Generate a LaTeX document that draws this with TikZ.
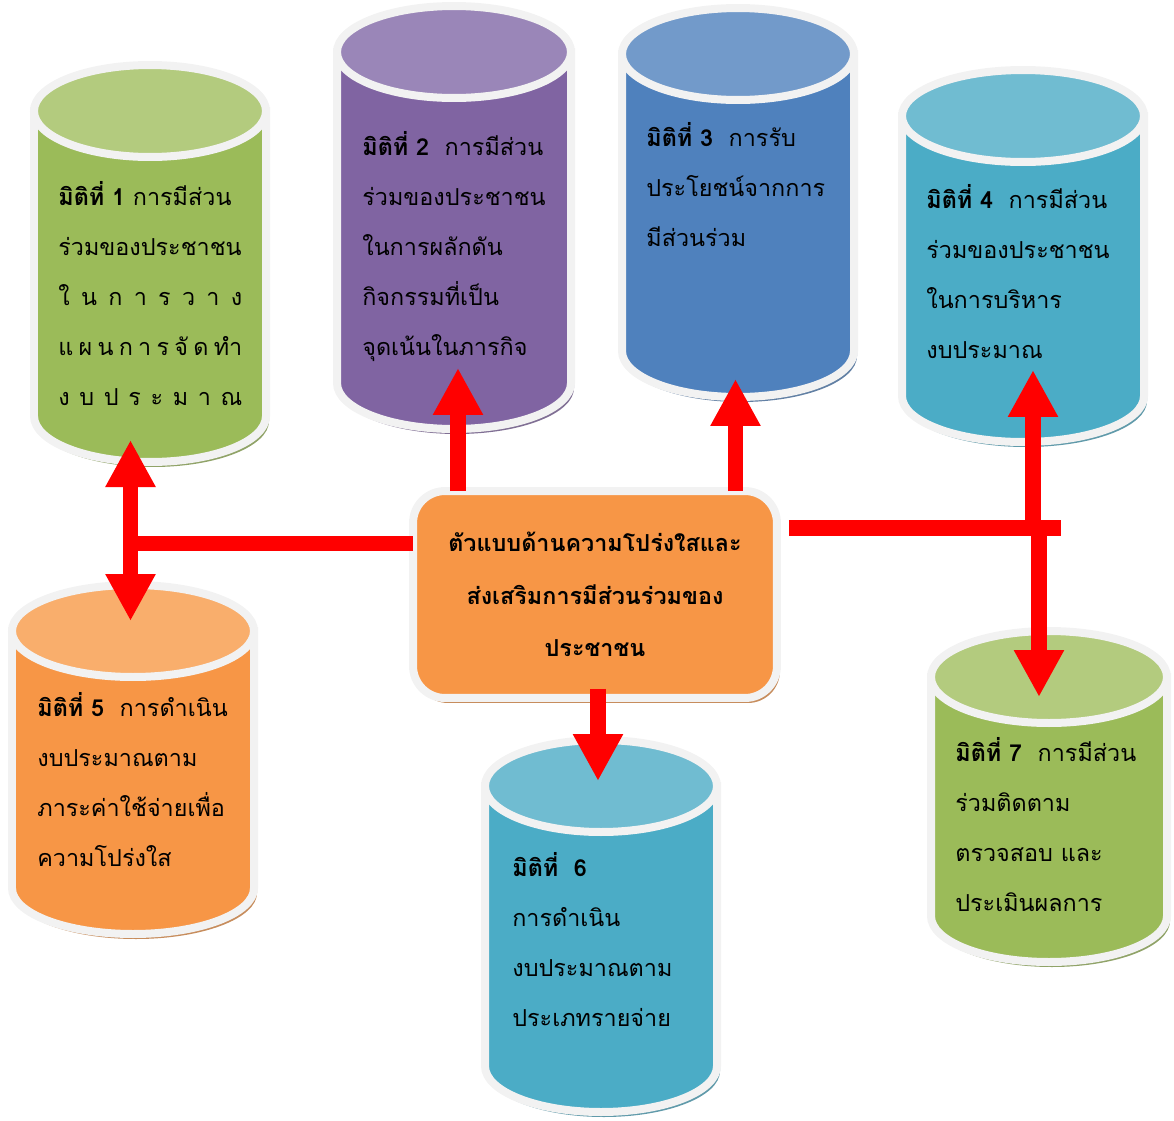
\documentclass[tikz,border=0pt]{standalone}
\usepackage{fontspec}
\newfontfamily\thai[Script=Thai]{Loma}
\usetikzlibrary{arrows.meta, shadows}

\definecolor{dgreen}{HTML}{9BBB59}
\definecolor{dgreentop}{HTML}{B3CB7E}
\definecolor{dpurple}{HTML}{8064A2}
\definecolor{dpurpletop}{HTML}{9A86B8}
\definecolor{dblue}{HTML}{4F81BD}
\definecolor{dbluetop}{HTML}{729ACA}
\definecolor{dteal}{HTML}{4BACC6}
\definecolor{dtealtop}{HTML}{70BCD1}
\definecolor{dorange}{HTML}{F79646}
\definecolor{dorangetop}{HTML}{F9AE6C}
\definecolor{rimgrey}{HTML}{F2F2F2}
\definecolor{arrowred}{HTML}{FF0000}

% cylinder: centre x, top y, bottom y, x radius, body colour, top colour
\newcommand\drum[6]{%
  \path[fill=#5!60!gray, shift={(3,5)}] (#1-#4,#2) -- (#1-#4,#3)
    arc[start angle=180, end angle=360, x radius=#4*0.02cm, y radius=0.92cm] -- (#1+#4,#2) -- cycle;
  \path[rim, fill=#5] (#1-#4,#2) -- (#1-#4,#3)
    arc[start angle=180, end angle=360, x radius=#4*0.02cm, y radius=0.92cm] -- (#1+#4,#2) -- cycle;
  \path[rim, fill=#6] (#1,#2) ellipse[x radius=#4*0.02cm, y radius=0.92cm];
}

\begin{document}
\begin{tikzpicture}[x=0.02cm, y=-0.02cm,
    rim/.style={draw=rimgrey, line width=0.16cm},
    dimtext/.style={anchor=north west, inner sep=0pt, text width=4.4cm, align=left,
      font=\thai\fontsize{13.3}{28.45}\selectfont},
    link/.style={draw=arrowred, line width=0.31cm},
    tip/.style={-{Triangle[width=0.94cm, length=0.94cm]}}]
  \useasboundingbox (0,0) rectangle (1174,1120);

  \drum{150}{111}{416}{116}{dgreen}{dgreentop}
  \drum{454}{52}{383}{117}{dpurple}{dpurpletop}
  \drum{738}{54}{351}{116}{dblue}{dbluetop}
  \drum{1023}{116}{396}{121}{dteal}{dtealtop}
  \drum{133}{631}{888}{121}{dorange}{dorangetop}
  \drum{601}{786}{1066}{116}{dteal}{dtealtop}
  \drum{1049}{677}{916}{118}{dgreen}{dgreentop}

  \node[dimtext] (d1) at (58,170) {\strut\textbf{มิติที่ 1} การมีส่วน\\
    ร่วมของประชาชน\\
    \makebox[3.68cm][s]{ใ\hfill น\hfill ก\hfill า\hfill ร\hfill ว\hfill า\hfill ง}\\
    \makebox[3.68cm][s]{แ\hfill ผ\hfill น\hfill ก\hfill า\hfill ร\hfill จั\hfill ด\hfill ทำ}\\
    \makebox[3.68cm][s]{ง\hfill บ\hfill ป\hfill ร\hfill ะ\hfill ม\hfill า\hfill ณ}};
  \node[dimtext] (d2) at (362,120) {\strut\textbf{มิติที่ 2}\ \ การมีส่วน\\
    ร่วมของประชาชน\\ ในการผลักดัน\\ กิจกรรมที่เป็น\\ จุดเน้นในภารกิจ};
  \node[dimtext] (d3) at (646,111) {\strut\textbf{มิติที่ 3}\ \ การรับ\\
    ประโยชน์จากการ\\ มีส่วนร่วม};
  \node[dimtext] (d4) at (926,173) {\strut\textbf{มิติที่ 4}\ \ การมีส่วน\\
    ร่วมของประชาชน\\ ในการบริหาร\\ งบประมาณ};
  \node[dimtext] (d5) at (37,681) {\strut\textbf{มิติที่ 5}\ \ การดำเนิน\\
    งบประมาณตาม\\ ภาระค่าใช้จ่ายเพื่อ\\ ความโปร่งใส};
  \node[dimtext] (d6) at (512,841) {\strut\textbf{มิติที่\ \ 6}\\
    การดำเนิน\\ งบประมาณตาม\\ ประเภทรายจ่าย};
  \node[dimtext] (d7) at (955,726) {\strut\textbf{มิติที่ 7}\ \ การมีส่วน\\
    ร่วมติดตาม\\ ตรวจสอบ และ\\ ประเมินผลการ};

  \node[rim, fill=dorange, rounded corners=0.64cm, minimum width=7.28cm, minimum height=4.14cm,
    outer sep=0pt, align=center, font=\thai\bfseries\fontsize{13.3}{30}\selectfont,
    drop shadow={shadow xshift=0.06cm, shadow yshift=-0.1cm, fill=dorange!60!gray, opacity=1}]
    (core) at (595,594.5) {ตัวแบบด้านความโปร่งใสและ\\ ส่งเสริมการมีส่วนร่วมของ\\ ประชาชน};

  \coordinate (jl) at (130.5,543.5);
  \coordinate (jr) at (1061,528);
  \coordinate (t1) at (130.5,440);
  \coordinate (t5) at (130.5,621);
  \coordinate (t2) at (458,368);
  \coordinate (t3) at (735.5,379);
  \coordinate (t4) at (1033,370);
  \coordinate (t7) at (1039,697);
  \coordinate (t6) at (598,781);

  \draw[link] (core.west |- jl) -- (jl);
  \draw[link, tip] (jl) -- (t1);
  \draw[link, tip] (jl) -- (t5);
  \draw[link, tip] (core.north -| t2) -- (t2);
  \draw[link, tip] (core.north -| t3) -- (t3);
  \draw[link] ([xshift=0.24cm]core.east |- jr) -- (jr);
  \draw[link, tip] (t4 |- jr) -- (t4);
  \draw[link, tip] (t7 |- jr) -- (t7);
  \draw[link, tip] ([yshift=0.18cm]core.south -| t6) -- (t6);
\end{tikzpicture}
\end{document}
